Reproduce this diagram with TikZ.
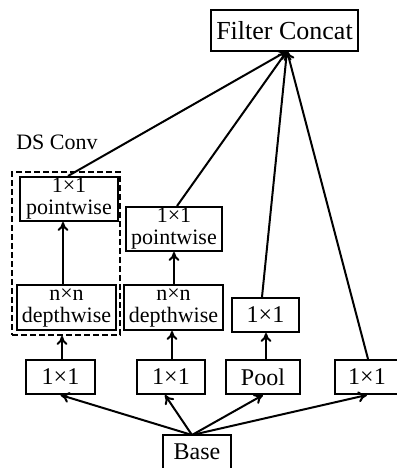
\documentclass[tikz,border=0pt]{standalone}
\usepackage{fontspec}
\setmainfont{Liberation Serif}
\usetikzlibrary{arrows.meta,calc}
\begin{document}
\begin{tikzpicture}[x=1pt,y=-1pt,
  box/.style={draw,line width=2pt,inner sep=0pt,align=center,
    font=\fontsize{24}{24}\selectfont},
  twoline/.style={box,font=\fontsize{22}{22}\selectfont},
  arr/.style={line width=2pt,-{To[length=9pt,width=11pt]}},
  ln/.style={line width=2pt,-{To[length=9pt,width=11pt]}}]
\useasboundingbox (0,0) rectangle (396,468);
\node[box,font=\fontsize{26}{26}\selectfont,minimum width=147pt,minimum height=41pt] (fc) at (284.5,30.5) {Filter Concat};
\node[twoline,minimum width=98pt,minimum height=44pt] (pw1) at (69,199) {1×1\\pointwise};
\node[twoline,minimum width=99pt,minimum height=45pt] (dw1) at (66.5,307.5) {n×n\\depthwise};
\node[twoline,minimum width=96pt,minimum height=44pt] (pw2) at (174,229) {1×1\\pointwise};
\node[twoline,minimum width=99pt,minimum height=45pt] (dw2) at (173.5,307.5) {n×n\\depthwise};
\node[box,minimum width=67pt,minimum height=34pt] (c3) at (265.5,315) {1×1};
\node[box,minimum width=69pt,minimum height=34pt] (b1) at (60.5,377) {1×1};
\node[box,minimum width=68pt,minimum height=34pt] (b2) at (171,377) {1×1};
\node[box,minimum width=74pt,minimum height=34pt] (pool) at (263,377) {Pool};
\node[box,minimum width=64pt,minimum height=34pt] (b4) at (367,377) {1×1};
\node[box,minimum width=68pt,minimum height=34pt] (base) at (197,452) {Base};
\node[draw,dash pattern=on 6pt off 3pt,line width=1.8pt,minimum width=108pt,minimum height=163pt,inner sep=0pt] (ds) at (66,253.5) {};
\node[font=\fontsize{22}{22}\selectfont,inner sep=0pt] (dsl) at (57,142) {DS Conv};
\coordinate (fcin) at (287,51);
\coordinate (bout) at (192,435);
% from base
\draw[arr] (bout) -- (b1.south);
\draw[arr] (bout) -- ($(b2.south)+(-6,0)$);
\draw[arr] (bout) -- (pool.south);
\draw[arr] (bout) -- (b4.south);
% upward
\draw[arr] (b1.north -| 62,0) -- (ds.south -| 62,0);
\draw[arr] (b2.north -| 172,0) -- (dw2.south -| 172,0);
\draw[arr] (pool.north -| 266,0) -- (c3.south -| 266,0);
\draw[arr] (dw1.north -| 63,0) -- (pw1.south -| 63,0);
\draw[arr] (dw2.north -| 174,0) -- (pw2.south -| 174,0);
% to concat
\draw[ln] (pw1.north -| 68,0) -- (fcin);
\draw[ln] (pw2.north -| 177,0) -- (fcin);
\draw[ln] (c3.north -| 262,0) -- (fcin);
\draw[ln] (b4.north -| 368,0) -- (fcin);
\end{tikzpicture}
\end{document}
